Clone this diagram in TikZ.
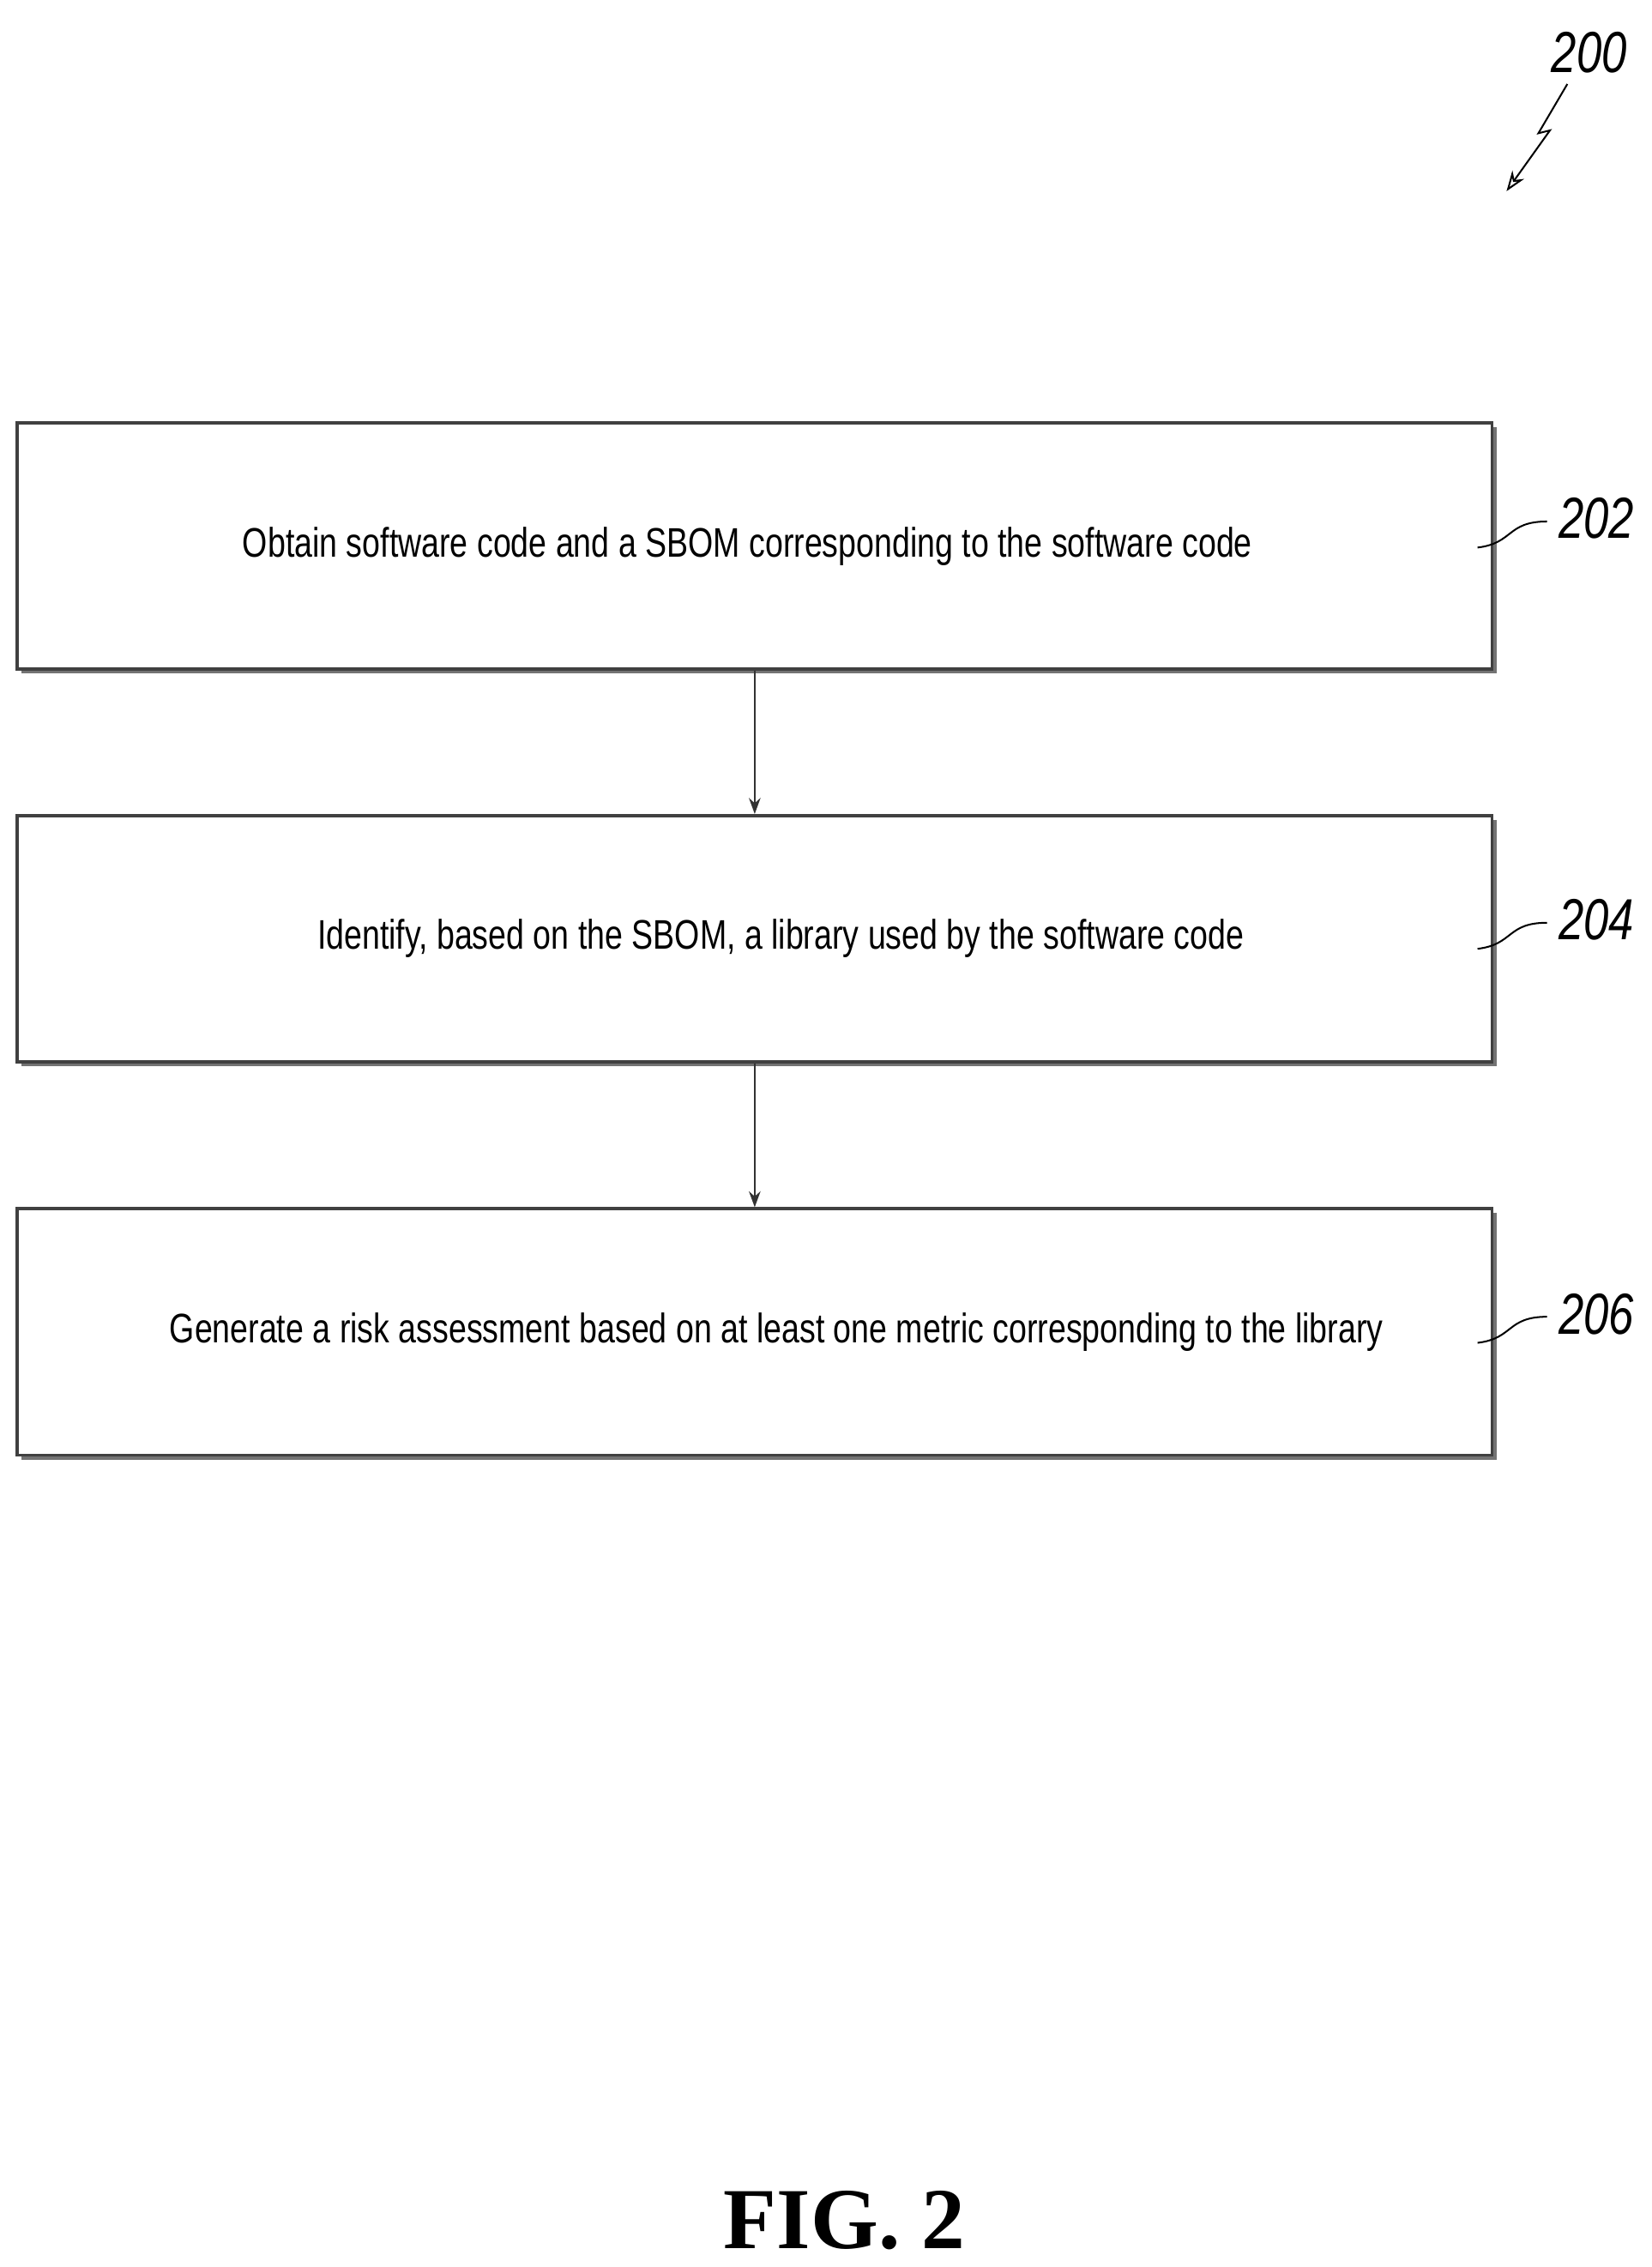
\documentclass[tikz,border=0pt]{standalone}
\usepackage{fontspec}
\setmainfont[FakeStretch=0.78]{Liberation Sans}
\newfontfamily\figfont{Liberation Serif}
\usetikzlibrary{arrows.meta,shadows}
\begin{document}
\begin{tikzpicture}[x=1pt,y=-1pt,
  stepbox/.style={draw=black!75,line width=2.2pt,fill=white,minimum width=1018pt,minimum height=170pt,
    font=\fontsize{28.5}{31}\selectfont,
    drop shadow={shadow xshift=3pt,shadow yshift=-3pt,fill=black!55,opacity=1}},
  reflab/.style={font=\fontsize{40}{40}\selectfont\itshape},
  conn/.style={-{Stealth[length=11pt,width=8pt]},line width=1.3pt,draw=black!80}]
\useasboundingbox (0,0) rectangle (1140,1565);
\node[stepbox] (b1) at (521,377) {\hspace*{-10pt}Obtain software code and a SBOM corresponding to the software code};
\node[stepbox] (b2) at (521,648) {\hspace*{36pt}Identify, based on the SBOM, a library used by the software code};
\node[stepbox] (b3) at (521,919.5) {\hspace*{30pt}Generate a risk assessment based on at least one metric corresponding to the library};
\draw[conn] (b1.south) -- (b2.north);
\draw[conn] (b2.south) -- (b3.north);
\node[reflab] (l1) at (1102,358) {202};
\node[reflab] (l2) at (1102,635) {204};
\node[reflab] (l3) at (1102,907) {206};
\draw[line width=1.2pt] (1020,378) .. controls (1045,375) and (1040,360) .. (1068,360);
\draw[line width=1.2pt] (1020,655) .. controls (1045,652) and (1040,637) .. (1068,637);
\draw[line width=1.2pt] (1020,927) .. controls (1045,924) and (1040,909) .. (1068,909);
\node[reflab] (l0) at (1097,36) {200};
\coordinate (z0) at (1082,58);
\coordinate (z1) at (1040,132);
\draw[line width=1.2pt,-{Stealth[length=14pt,width=10pt,open]}] (z0) -- (1062,92) -- (1070,90) -- (z1);
\node[font=\figfont\bfseries\fontsize{60}{60}\selectfont] (fig) at (583,1533) {FIG. 2};
\end{tikzpicture}
\end{document}
